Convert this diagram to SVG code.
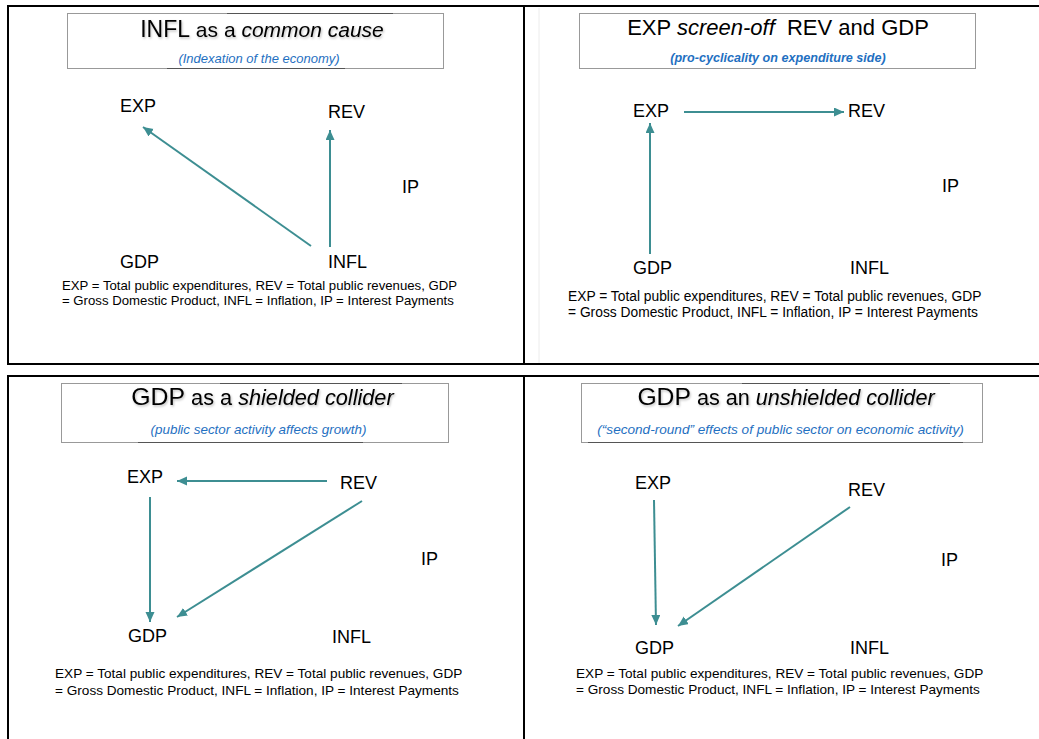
<svg xmlns="http://www.w3.org/2000/svg" width="1039" height="739" viewBox="0 0 1039 739">
<defs>
<style>
.frame{fill:none;stroke:#000;stroke-width:2}
.tbox{fill:#fff;stroke:#999;stroke-width:1}
.tshade{stroke:#555;stroke-width:1}
.title{font-family:"Liberation Sans",Arial,sans-serif;fill:#000}
.sub{font-family:"Liberation Sans",Arial,sans-serif;font-style:italic;fill:#1f70c1}
.node{font-family:"Liberation Sans",Arial,sans-serif;font-size:18px;fill:#000}
.legend{font-family:"Liberation Sans",Arial,sans-serif;fill:#000}
.edge{stroke:#3d8e92;stroke-width:2;fill:none;marker-end:url(#ah)}
</style>
<marker id="ah" markerUnits="userSpaceOnUse" markerWidth="11" markerHeight="10" refX="10" refY="4.5" orient="auto">
<path d="M0,0 L10,4.5 L0,9 Z" fill="#3d8e92"/>
</marker>
<filter id="sh" x="-5%" y="-20%" width="110%" height="150%">
<feDropShadow dx="1" dy="1.5" stdDeviation="1" flood-color="#000" flood-opacity="0.25"/>
</filter>
</defs>
<rect width="1039" height="739" fill="#fff"/>

<g id="frames">
<rect class="frame" x="8" y="6" width="516" height="358"/>
<path class="frame" d="M524,6 H1039 M524,364 H1039"/>
<line x1="539" y1="8" x2="539" y2="363" stroke="#ececec" stroke-width="1"/>
<path class="frame" d="M8,739 V376 H1039 M524,376 V739"/>
</g>

<g id="titles">
<g id="title-tl">
<rect class="tbox" x="67.5" y="13.5" width="376" height="55"/>
<line class="tshade" x1="227" y1="13.5" x2="393" y2="13.5"/>
<line class="tshade" x1="167" y1="68.5" x2="345" y2="68.5"/>
<text class="title" x="262" y="37" text-anchor="middle" font-size="21" filter="url(#sh)"><tspan font-size="23">INFL</tspan> as a <tspan font-style="italic">common cause</tspan></text>
<text class="sub" x="259" y="63" text-anchor="middle" font-size="13">(Indexation of the economy)</text>
</g>
<g id="title-tr">
<rect class="tbox" x="579.5" y="13.5" width="396" height="55"/>
<text class="title" x="778" y="35" text-anchor="middle" font-size="22">EXP <tspan font-style="italic">screen-off</tspan>&#160; REV and GDP</text>
<text class="sub" x="778" y="62" text-anchor="middle" font-size="12.6" font-weight="bold" fill="#3a72b8">(pro-cyclicality on expenditure side)</text>
</g>
<g id="title-bl">
<rect class="tbox" x="61.5" y="383.5" width="387" height="59"/>
<line class="tshade" x1="220" y1="383.5" x2="402" y2="383.5"/>
<line class="tshade" x1="138" y1="442.5" x2="363" y2="442.5"/>
<text class="title" x="262.5" y="405" text-anchor="middle" font-size="21.7" filter="url(#sh)"><tspan font-size="24.8">GDP</tspan> as a <tspan font-style="italic">shielded collider</tspan></text>
<text class="sub" x="258.5" y="434" text-anchor="middle" font-size="13.4">(public sector activity affects growth)</text>
</g>
<g id="title-br">
<rect class="tbox" x="581.5" y="383.5" width="401" height="59"/>
<line class="tshade" x1="742" y1="383.5" x2="950" y2="383.5"/>
<line class="tshade" x1="588" y1="442.5" x2="963" y2="442.5"/>
<text class="title" x="786" y="405" text-anchor="middle" font-size="21.6" filter="url(#sh)"><tspan font-size="24.7">GDP</tspan> as an <tspan font-style="italic">unshielded collider</tspan></text>
<text class="sub" x="780.5" y="434" text-anchor="middle" font-size="13.6">(“second-round” effects of public sector on economic activity)</text>
</g>
</g>

<g id="connectors">
<line class="edge" x1="311" y1="246" x2="143" y2="127"/>
<line class="edge" x1="330" y1="247" x2="330" y2="130"/>
<line class="edge" x1="684" y1="112" x2="844" y2="112"/>
<line class="edge" x1="650" y1="254" x2="650" y2="123"/>
<line class="edge" x1="327" y1="481" x2="177" y2="481"/>
<line class="edge" x1="150" y1="497" x2="150" y2="622"/>
<line class="edge" x1="362" y1="501" x2="177" y2="617"/>
<line class="edge" x1="654" y1="500" x2="656" y2="625"/>
<line class="edge" x1="850" y1="507" x2="678" y2="626"/>
</g>

<g id="tl-exp"><text class="node" x="120" y="112">EXP</text></g>
<g id="tl-rev"><text class="node" x="328" y="118">REV</text></g>
<g id="tl-gdp"><text class="node" x="120" y="268">GDP</text></g>
<g id="tl-infl"><text class="node" x="328" y="268">INFL</text></g>
<g id="tl-ip"><text class="node" x="402" y="193">IP</text></g>
<g id="tl-legend"><text class="legend" x="62" y="290" font-size="13.2">EXP = Total public expenditures, REV = Total public revenues, GDP</text><text class="legend" x="62" y="305" font-size="13.2">= Gross Domestic Product, INFL = Inflation, IP = Interest Payments</text></g>

<g id="tr-exp"><text class="node" x="633" y="117">EXP</text></g>
<g id="tr-rev"><text class="node" x="848" y="117">REV</text></g>
<g id="tr-gdp"><text class="node" x="633" y="274">GDP</text></g>
<g id="tr-infl"><text class="node" x="850" y="274">INFL</text></g>
<g id="tr-ip"><text class="node" x="942" y="192">IP</text></g>
<g id="tr-legend"><text class="legend" x="568" y="301" font-size="13.8">EXP = Total public expenditures, REV = Total public revenues, GDP</text><text class="legend" x="568" y="317" font-size="13.8">= Gross Domestic Product, INFL = Inflation, IP = Interest Payments</text></g>

<g id="bl-exp"><text class="node" x="127" y="483">EXP</text></g>
<g id="bl-rev"><text class="node" x="340" y="489">REV</text></g>
<g id="bl-gdp"><text class="node" x="128" y="642">GDP</text></g>
<g id="bl-infl"><text class="node" x="332" y="643">INFL</text></g>
<g id="bl-ip"><text class="node" x="421" y="565">IP</text></g>
<g id="bl-legend"><text class="legend" x="55" y="678" font-size="13.6">EXP = Total public expenditures, REV = Total public revenues, GDP</text><text class="legend" x="55" y="695" font-size="13.6">= Gross Domestic Product, INFL = Inflation, IP = Interest Payments</text></g>

<g id="br-exp"><text class="node" x="635" y="489">EXP</text></g>
<g id="br-rev"><text class="node" x="848" y="496">REV</text></g>
<g id="br-gdp"><text class="node" x="635" y="654">GDP</text></g>
<g id="br-infl"><text class="node" x="850" y="654">INFL</text></g>
<g id="br-ip"><text class="node" x="941" y="566">IP</text></g>
<g id="br-legend"><text class="legend" x="576" y="678" font-size="13.6">EXP = Total public expenditures, REV = Total public revenues, GDP</text><text class="legend" x="576" y="694" font-size="13.6">= Gross Domestic Product, INFL = Inflation, IP = Interest Payments</text></g>
</svg>
